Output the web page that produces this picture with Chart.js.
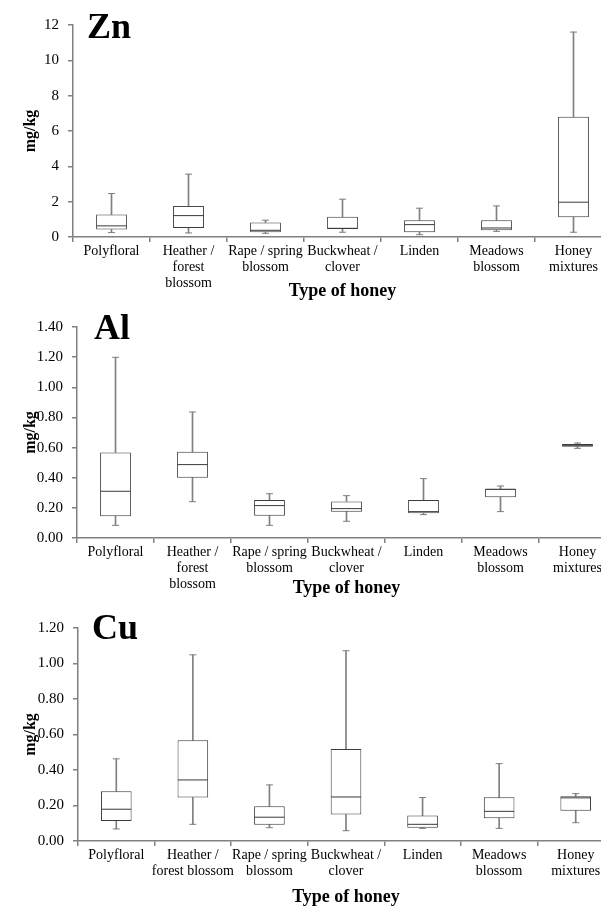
<!DOCTYPE html>
<html>
<head>
<meta charset="utf-8">
<script src="https://cdn.jsdelivr.net/npm/chart.js@4"></script>
<style>
  body { margin:0; width:601px; height:907px; overflow:hidden; background:#fff; position:relative; }
  .panel { position:absolute; left:0; }
  .metal { position:absolute; font:bold 36px "Liberation Serif", serif; line-height:36px; color:#000; }
</style>
</head>
<body>
<div class="panel" style="top:0"><canvas id="znChart" width="612" height="300"></canvas></div>
<div class="panel" style="top:300px"><canvas id="alChart" width="616" height="300"></canvas></div>
<div class="panel" style="top:600px"><canvas id="cuChart" width="614" height="307"></canvas></div>
<div class="metal" style="left:87px;top:8px">Zn</div>
<div class="metal" style="left:94px;top:309px">Al</div>
<div class="metal" style="left:92px;top:609px">Cu</div>
<script>
// honey types
const categories = [['Polyfloral'], ['Heather /', 'forest', 'blossom'], ['Rape / spring', 'blossom'], ['Buckwheat /', 'clover'], ['Linden'], ['Meadows', 'blossom'], ['Honey', 'mixtures']];
const categoriesCu = [['Polyfloral'], ['Heather /', 'forest blossom'], ['Rape / spring', 'blossom'], ['Buckwheat /', 'clover'], ['Linden'], ['Meadows', 'blossom'], ['Honey', 'mixtures']];

// Zn, mg/kg
const znMin    = [0.25, 0.23, 0.21, 0.27, 0.13, 0.32, 0.27];
const znQ1     = [0.42, 0.51, 0.27, 0.45, 0.27, 0.38, 1.12];
const znMedian = [0.63, 1.21, 0.38, 0.49, 0.70, 0.51, 1.97];
const znQ3     = [1.27, 1.76, 0.82, 1.14, 0.95, 0.95, 6.81];
const znMax    = [2.46, 3.56, 0.95, 2.14, 1.63, 1.76, 11.6];

// Al, mg/kg
const alMin    = [0.084, 0.241, 0.084, 0.111, 0.155, 0.175, 0.595];
const alQ1     = [0.144, 0.400, 0.148, 0.175, 0.164, 0.270, 0.606];
const alMedian = [0.310, 0.487, 0.215, 0.195, 0.175, 0.323, 0.615];
const alQ3     = [0.568, 0.573, 0.252, 0.243, 0.252, 0.327, 0.624];
const alMax    = [1.199, 0.836, 0.294, 0.281, 0.394, 0.345, 0.630];

// Cu, mg/kg
const cuMin    = [0.068, 0.094, 0.075, 0.058, 0.071, 0.071, 0.103];
const cuQ1     = [0.113, 0.245, 0.092, 0.149, 0.075, 0.128, 0.171];
const cuMedian = [0.179, 0.344, 0.134, 0.248, 0.094, 0.167, 0.243];
const cuQ3     = [0.280, 0.568, 0.196, 0.519, 0.143, 0.246, 0.252];
const cuMax    = [0.463, 1.049, 0.316, 1.072, 0.245, 0.436, 0.267];

// y axis: [max, step, decimals]
const znTicks = [12, 2, 0];
const alTicks = [1.4, 0.2, 2];
const cuTicks = [1.2, 0.2, 2];

const serif = '"Liberation Serif", "Times New Roman", serif';
const boxColor = '#3a3a3a';
const whiskerColor = '#808080';

function boxPlot(id, labels, min, q1, med, q3, max, ticks, geo) {
  const pair = (a, b) => a.map((v, i) => [v, b[i]]);
  const markers = (data, radius, color) => ({
    type: 'line', data: data, showLine: false, order: 0,
    pointStyle: 'line', pointRadius: radius, pointHoverRadius: radius,
    pointBorderColor: color, pointBorderWidth: 1
  });
  const whisker = data => ({
    type: 'bar', data: data, grouped: false, order: 2,
    barThickness: 1, backgroundColor: whiskerColor, borderWidth: 0
  });
  return new Chart(document.getElementById(id), {
    type: 'bar',
    data: {
      labels: labels,
      datasets: [
        { data: pair(q1, q3), grouped: false, order: 1, barPercentage: 0.4, categoryPercentage: 1,
          backgroundColor: '#fff', borderColor: boxColor, borderWidth: 1, borderSkipped: false },
        whisker(pair(min, q1)),
        whisker(pair(q3, max)),
        markers(med, 15, boxColor),
        markers(min, 3.5, whiskerColor),
        markers(max, 3.5, whiskerColor)
      ]
    },
    options: {
      responsive: false, animation: false, events: [],
      layout: { autoPadding: false, padding: { top: geo.top, left: 0, right: 0, bottom: 0 } },
      plugins: { legend: { display: false }, tooltip: { enabled: false } },
      scales: {
        x: {
          offset: true,
          afterFit: s => { s.height = geo.xHeight; },
          grid: { drawOnChartArea: false, offset: true, tickLength: 5, color: whiskerColor, lineWidth: 1.5 },
          border: { color: whiskerColor, width: 1.5 },
          ticks: { color: '#000', maxRotation: 0, autoSkip: false, padding: 1,
                   font: { family: serif, size: 14, lineHeight: 1.15 } },
          title: { display: true, text: 'Type of honey', color: '#000', align: 'center',
                   padding: { top: 0, bottom: geo.titlePad },
                   font: { family: serif, size: 18, weight: 'bold', lineHeight: 1 } }
        },
        y: {
          min: 0, max: ticks[0],
          afterFit: s => { s.width = geo.yWidth; },
          grid: { drawOnChartArea: false, tickLength: 5, color: whiskerColor, lineWidth: 1.5 },
          border: { color: whiskerColor, width: 1.5 },
          ticks: { stepSize: ticks[1], color: '#000', padding: 9,
                   font: { family: serif, size: 15 },
                   callback: v => v.toFixed(ticks[2]) },
          title: { display: true, text: 'mg/kg', color: '#000',
                   padding: { top: 21, bottom: 0 },
                   font: { family: serif, size: 16, weight: 'bold', lineHeight: 1.2 } }
        }
      }
    }
  });
}

boxPlot('znChart', categories, znMin, znQ1, znMedian, znQ3, znMax, znTicks,
  { top: 25, xHeight: 63, yWidth: 73, titlePad: 0 });
boxPlot('alChart', categories, alMin, alQ1, alMedian, alQ3, alMax, alTicks,
  { top: 27, xHeight: 62, yWidth: 77, titlePad: 3 });
boxPlot('cuChart', categoriesCu, cuMin, cuQ1, cuMedian, cuQ3, cuMax, cuTicks,
  { top: 28, xHeight: 66, yWidth: 78, titlePad: 1 });
</script>
</body>
</html>
